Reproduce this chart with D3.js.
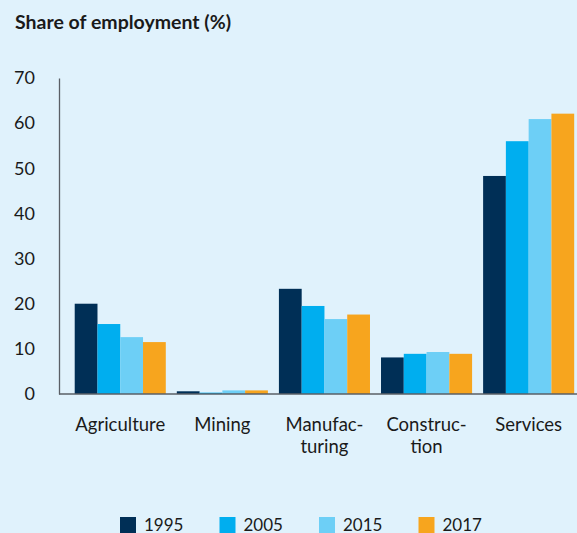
<!DOCTYPE html>
<html><head><meta charset="utf-8">
<script src="https://cdn.jsdelivr.net/npm/d3@7"></script>
<style>
html,body{margin:0;padding:0;background:#E0F2FC;}
svg{display:block;}
text{font-family:Lato, "Open Sans", sans-serif;fill:#1a1a1a;}
</style></head><body>
<svg id="c" width="577" height="533"></svg>
<script>
const categories = [["Agriculture"], ["Mining"], ["Manufac-", "turing"], ["Construc-", "tion"], ["Services"]];
const years = ["1995", "2005", "2015", "2017"];
const v1995 = [20.0, 0.6, 23.3, 8.1, 48.3];
const v2005 = [15.5, 0.3, 19.5, 8.9, 56.0];
const v2015 = [12.6, 0.8, 16.6, 9.3, 60.9];
const v2017 = [11.5, 0.8, 17.6, 8.9, 62.1];
const yTicks = [0, 10, 20, 30, 40, 50, 60, 70];
const colors = ["#002F56", "#00AEEF", "#6DCFF6", "#F7A51E"];
const series = [v1995, v2005, v2015, v2017];

const svg = d3.select("#c");
svg.append("rect").attr("width",577).attr("height",533).attr("fill","#E0F2FC");

const y = d3.scaleLinear().domain([0,70]).range([394,78]);
const x0 = d3.scaleBand().domain(d3.range(categories.length)).range([59.4, 589.5]).paddingInner(0.108).paddingOuter(0.15);
const x1 = d3.scaleBand().domain(years).range([0, x0.bandwidth()]);

svg.append("text").attr("x",15).attr("y",29).attr("font-size",19.5).attr("font-weight",700)
  .text("Share of employment (%)");

// y tick labels
const yAxis = d3.axisLeft(y).tickValues(yTicks).tickSize(0).tickPadding(24);
const ga = svg.append("g").attr("transform","translate(59,0)").call(yAxis);
ga.select(".domain").attr("stroke","#5a5f66").attr("stroke-width",1.3);
ga.selectAll("text").attr("font-size",18).attr("fill","#1a1a1a").attr("font-family","Lato, sans-serif");

// bars
categories.forEach((c,i)=>{
  const g = svg.append("g").attr("transform",`translate(${x0(i)},0)`);
  years.forEach((yr,j)=>{
    const val = series[j][i];
    g.append("rect").attr("x",x1(yr)).attr("width",x1.bandwidth())
      .attr("y",y(val)).attr("height",y(0)-y(val)).attr("fill",colors[j]);
  });
  const t = svg.append("text").attr("text-anchor","middle").attr("font-size",18.5)
    .attr("x",x0(i)+x0.bandwidth()/2).attr("y",431);
  c.forEach((line,k)=> t.append("tspan").attr("x",x0(i)+x0.bandwidth()/2).attr("dy",k?22:0).text(line));
});

// baseline
svg.append("line").attr("x1",59).attr("x2",577).attr("y1",y(0)).attr("y2",y(0)).attr("stroke","#5a5f66").attr("stroke-width",1.5);

// legend
const lx = d3.scaleBand().domain(years).range([120, 518]);
years.forEach((yr,j)=>{
  svg.append("rect").attr("x",lx(yr)).attr("y",517).attr("width",16).attr("height",16).attr("fill",colors[j]);
  svg.append("text").attr("x",lx(yr)+24).attr("y",531).attr("font-size",17).text(yr);
});
</script></body></html>
